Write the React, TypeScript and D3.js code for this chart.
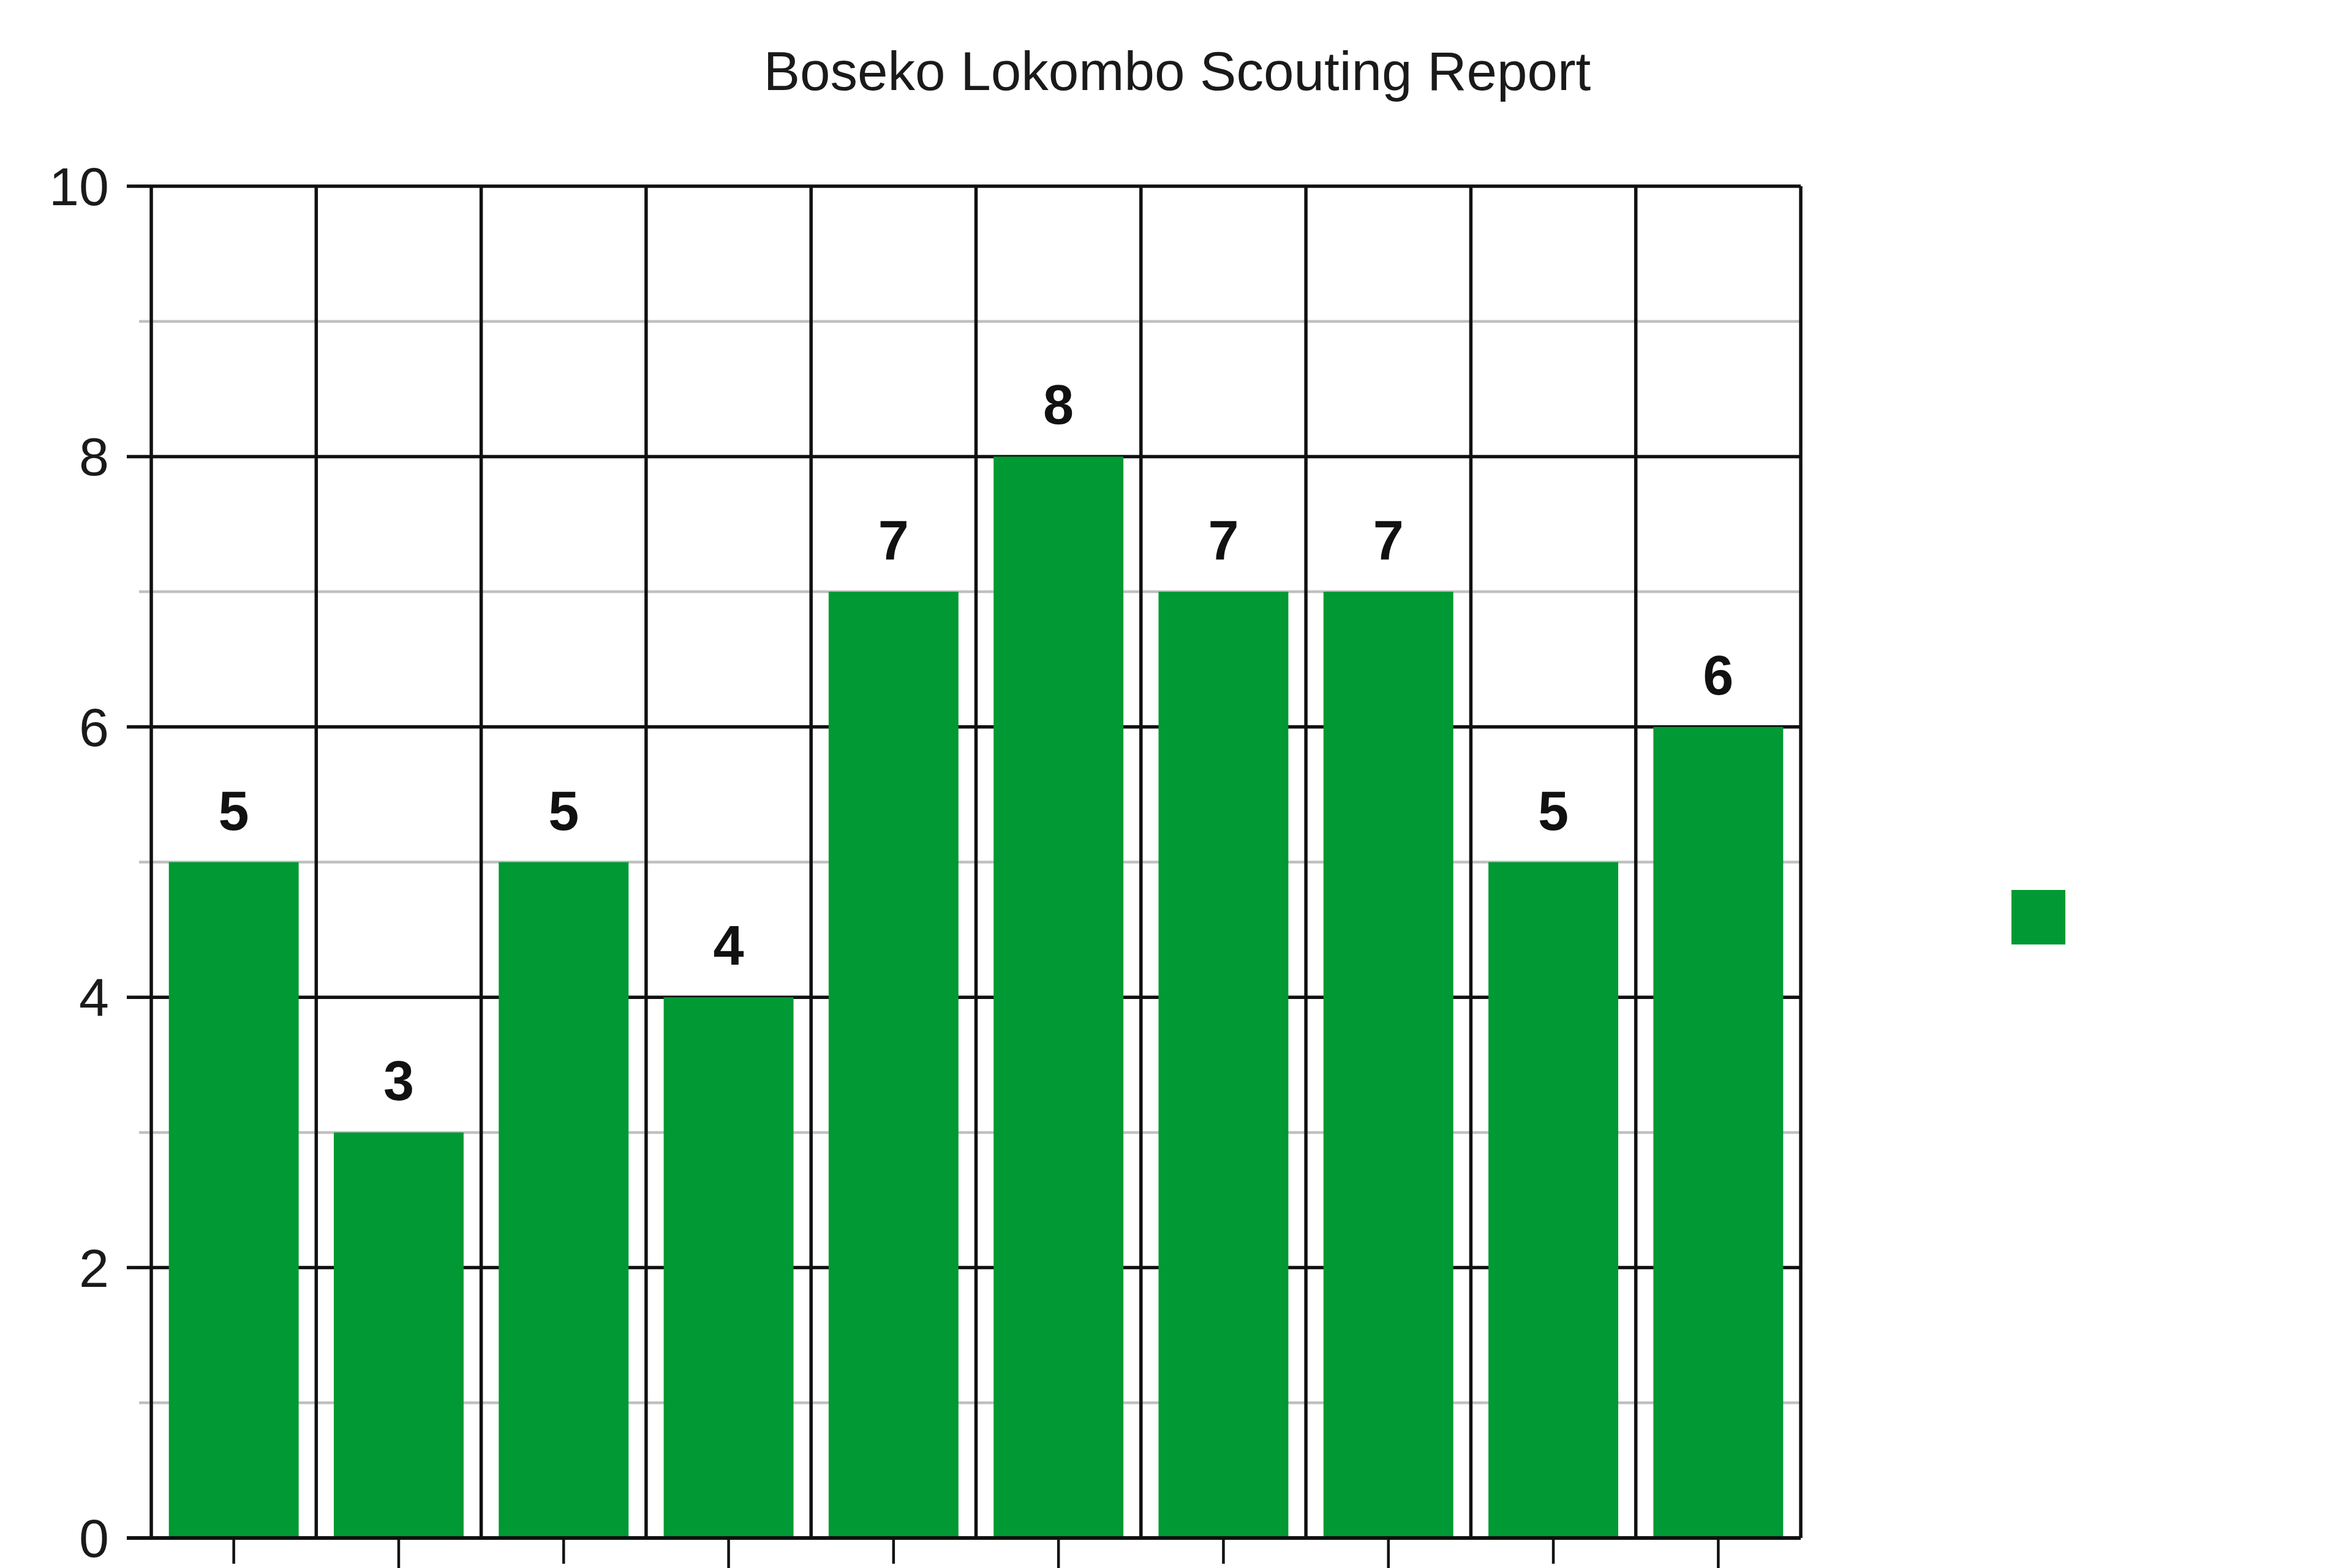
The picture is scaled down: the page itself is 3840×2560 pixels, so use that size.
import * as d3 from "d3";

// scouting attributes (axis labels fall below the visible area)
const categories = ["c1", "c2", "c3", "c4", "c5", "c6", "c7", "c8", "c9", "c10"];
const ratings = [5, 3, 5, 4, 7, 8, 7, 7, 5, 6];
const majorTicks = [0, 2, 4, 6, 8, 10];
const minorTicks = [1, 3, 5, 7, 9];

const W = 3840;
const H = 2560;
const plot = { left: 247, right: 2940, top: 304, bottom: 2511 };
const green = "#009933";
const font = "'Liberation Sans', Arial, sans-serif";

export default function App() {
  const x = d3
    .scaleBand<string>()
    .domain(categories)
    .range([plot.left, plot.right])
    .paddingInner(0.213)
    .paddingOuter(0.1065);

  const y = d3.scaleLinear().domain([0, 10]).range([plot.bottom, plot.top]);

  const step = x.step();
  const colEdges = d3.range(categories.length + 1).map((i) => plot.left + i * step);

  return (
    <svg
      width={W}
      height={H}
      style={{ position: "absolute", left: 0, top: 0, background: "#fff" }}
      fontFamily={font}
    >
      <rect x={0} y={0} width={W} height={H} fill="#fff" />

      {/* title */}
      <text x={1922} y={147} textAnchor="middle" fontSize={89} fill="#1a1a1a">
        Boseko Lokombo Scouting Report
      </text>

      {/* minor grid */}
      {minorTicks.map((t) => (
        <line
          key={"mi" + t}
          x1={plot.left - 20}
          x2={plot.right}
          y1={y(t)}
          y2={y(t)}
          stroke="#c0c0c0"
          strokeWidth={4.5}
        />
      ))}

      {/* major grid */}
      {majorTicks.map((t) => (
        <line
          key={"ma" + t}
          x1={plot.left - 40}
          x2={plot.right}
          y1={y(t)}
          y2={y(t)}
          stroke="#111"
          strokeWidth={5.5}
        />
      ))}

      {/* column lines */}
      {colEdges.map((cx, i) => (
        <line
          key={"v" + i}
          x1={cx}
          x2={cx}
          y1={plot.top}
          y2={plot.bottom}
          stroke="#111"
          strokeWidth={5.5}
        />
      ))}

      {/* bars */}
      {categories.map((c, i) => (
        <rect
          key={"b" + c}
          x={x(c) ?? 0}
          y={y(ratings[i])}
          width={x.bandwidth()}
          height={plot.bottom - y(ratings[i])}
          fill={green}
        />
      ))}

      {/* zero line on top of bars */}
      <line
        x1={plot.left - 40}
        x2={plot.right}
        y1={y(0)}
        y2={y(0)}
        stroke="#111"
        strokeWidth={6}
      />

      {/* x ticks, staggered */}
      {categories.map((c, i) => {
        const cx = (x(c) ?? 0) + x.bandwidth() / 2;
        return (
          <line
            key={"xt" + c}
            x1={cx}
            x2={cx}
            y1={plot.bottom}
            y2={plot.bottom + (i % 2 === 0 ? 42 : 90)}
            stroke="#111"
            strokeWidth={4.5}
          />
        );
      })}

      {/* value labels */}
      {categories.map((c, i) => (
        <text
          key={"vl" + c}
          x={(x(c) ?? 0) + x.bandwidth() / 2}
          y={y(ratings[i]) - 53}
          textAnchor="middle"
          fontSize={90}
          fontWeight="bold"
          fill="#111"
        >
          {ratings[i]}
        </text>
      ))}

      {/* y labels */}
      {majorTicks.map((t) => (
        <text
          key={"yl" + t}
          x={178}
          y={y(t) + 31}
          textAnchor="end"
          fontSize={88}
          fill="#1a1a1a"
        >
          {t}
        </text>
      ))}

      {/* legend swatch */}
      <rect x={3284} y={1453} width={88} height={89} fill={green} />
    </svg>
  );
}
